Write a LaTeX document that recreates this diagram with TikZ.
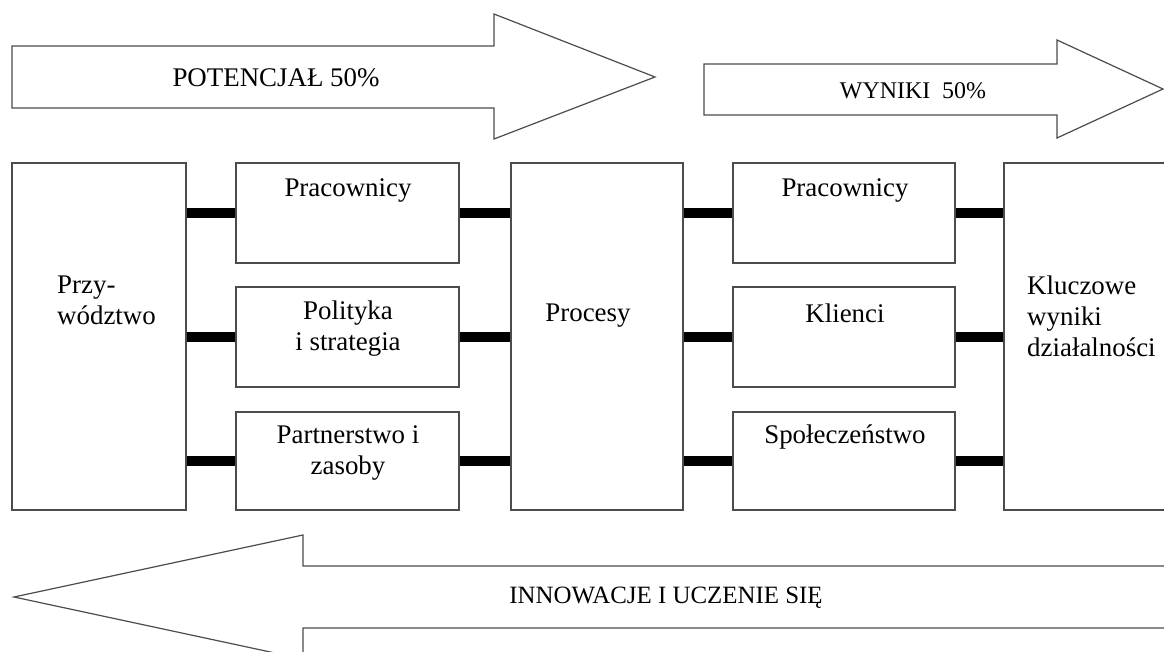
\documentclass[tikz,border=0pt]{standalone}
\usepackage{fontspec}
\setmainfont{Liberation Serif}
\begin{document}
\begin{tikzpicture}[x=1bp,y=-1bp,
  outline/.style={draw=black!70,line width=1.2bp,fill=white},
  box/.style={outline,rectangle,inner sep=0pt},
  bar/.style={line width=10bp,draw=black},
  txt/.style={font=\fontsize{27}{31}\selectfont,inner sep=0pt},
  lbl/.style={font=\fontsize{24}{28}\selectfont,inner sep=0pt}]
\useasboundingbox (0,0) rectangle (1164,652);
\clip (0,0) rectangle (1164,652);
\fill[white] (0,0) rectangle (1164,652);

% block arrows
\draw[outline,line join=miter] (12,46) -- (494,46) -- (494,14) -- (655,77)
  -- (494,139) -- (494,108) -- (12,108) -- cycle;
\node[txt] (pot) at (276,78) {POTENCJAŁ 50\%};

\draw[outline,line join=miter] (704,64) -- (1057,64) -- (1057,40) -- (1163,89)
  -- (1057,138) -- (1057,115) -- (704,115) -- cycle;
\node[lbl] (wyn) at (913,91) {WYNIKI \ 50\%};

\draw[outline,line join=miter] (1180,566) -- (303,566) -- (303,535) -- (14,597)
  -- (303,659) -- (303,628) -- (1180,628);
\node[lbl,font=\fontsize{25}{29}\selectfont] (inn) at (666,598) {INNOWACJE I UCZENIE SIĘ};

% enabler and result blocks
\node[box,minimum width=174bp,minimum height=347bp] (przyw) at (99,336.5) {};
\node[txt,align=left,anchor=west] (przywt) at (57,300) {Przy-\\wództwo};

\node[box,minimum width=223bp,minimum height=100bp] (p1) at (347.5,213) {};
\node[box,minimum width=223bp,minimum height=100bp] (p2) at (347.5,337) {};
\node[box,minimum width=223bp,minimum height=98bp] (p3) at (347.5,461) {};
\node[txt] (p1t) at (348,190) {Pracownicy};
\node[txt,align=center] (p2t) at (348,329) {Polityka\\i strategia};
\node[txt,align=center] (p3t) at (348,453) {Partnerstwo i\\zasoby};

\node[box,minimum width=172bp,minimum height=347bp] (proc) at (597,336.5) {};
\node[txt] (proct) at (588,316) {Procesy};

\node[box,minimum width=222bp,minimum height=100bp] (w1) at (844,213) {};
\node[box,minimum width=222bp,minimum height=100bp] (w2) at (844,337) {};
\node[box,minimum width=222bp,minimum height=98bp] (w3) at (844,461) {};
\node[txt] (w1t) at (845,190) {Pracownicy};
\node[txt] (w2t) at (845,313) {Klienci};
\node[txt] (w3t) at (845,437) {Społeczeństwo};

\node[box,minimum width=200bp,minimum height=347bp] (klucz) at (1104,336.5) {};
\node[txt,align=left,anchor=west] (kluczt) at (1027,316) {Kluczowe\\wyniki\\działalności};

% thick links between blocks
\foreach \b in {p1,p2,p3}{
  \draw[bar] (przyw.east |- \b.west) -- (\b.west);
  \draw[bar] (\b.east) -- (proc.west |- \b.east);
}
\foreach \b in {w1,w2,w3}{
  \draw[bar] (proc.east |- \b.west) -- (\b.west);
  \draw[bar] (\b.east) -- (klucz.west |- \b.east);
}
\end{tikzpicture}
\end{document}
